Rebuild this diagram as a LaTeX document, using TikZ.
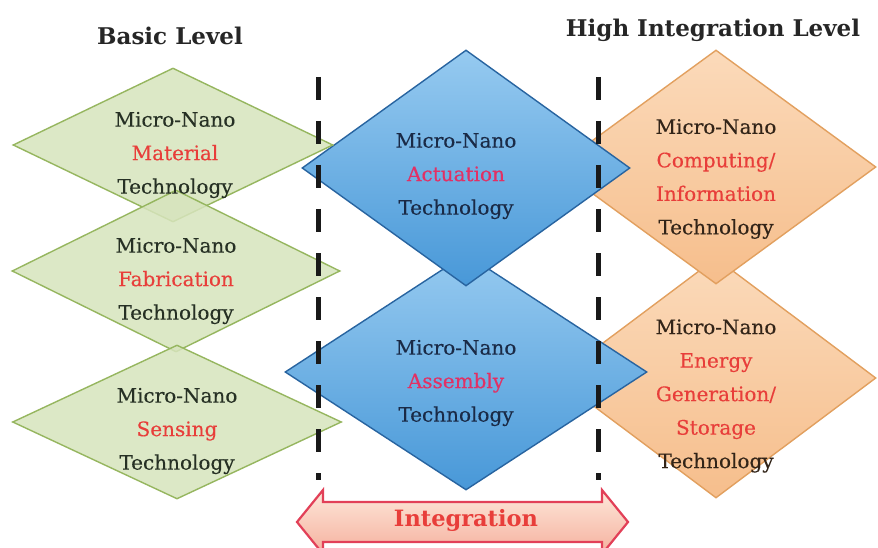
\documentclass[tikz,border=0pt]{standalone}
\usepackage{fontspec}
\setmainfont{DejaVu Serif}
\newfontfamily\lblfont{DejaVu Serif}[FakeBold=0.35]
\usetikzlibrary{shapes.geometric}
\definecolor{grnfill}{RGB}{215,228,189}
\definecolor{grnline}{RGB}{150,182,95}
\definecolor{bluetop}{RGB}{150,202,240}
\definecolor{bluebot}{RGB}{72,152,216}
\definecolor{blueline}{RGB}{40,100,160}
\definecolor{orgtop}{RGB}{251,218,186}
\definecolor{orgbot}{RGB}{246,190,140}
\definecolor{orgline}{RGB}{226,160,95}
\definecolor{redword}{RGB}{232,62,58}
\definecolor{pinkword}{RGB}{226,48,100}
\definecolor{darkgrn}{RGB}{38,48,36}
\definecolor{darkblue}{RGB}{26,42,70}
\definecolor{darkbrown}{RGB}{50,36,24}
\definecolor{arrline}{RGB}{226,64,88}
\definecolor{arrtop}{RGB}{253,232,218}
\definecolor{arrbot}{RGB}{245,176,158}
\begin{document}
\begin{tikzpicture}[x=1pt,y=-1pt,
  dia/.style={diamond, inner sep=0pt, line width=1.4pt},
  gdia/.style={dia, draw=grnline, fill=grnfill, fill opacity=0.85},
  bdia/.style={dia, draw=blueline, top color=bluetop, bottom color=bluebot},
  odia/.style={dia, draw=orgline, top color=orgtop, bottom color=orgbot},
  label/.style={align=center, font=\lblfont\fontsize{20}{33.5}\selectfont},
  header/.style={font=\fontsize{23}{27}\selectfont\bfseries, text=black!85},
  divider/.style={line width=5pt, black!90, dash pattern=on 23pt off 21pt},
]
\useasboundingbox (0,0) rectangle (878,548);
\fill[white] (0,0) rectangle (878,548);

% orange diamonds
\node[odia, minimum width=320pt, minimum height=240pt] (energy) at (716,378) {};
\node[odia, minimum width=320pt, minimum height=234pt] (comp) at (716,167) {};
% blue diamonds
\node[bdia, minimum width=362pt, minimum height=236pt] (assem) at (466,372) {};
\node[bdia, minimum width=328pt, minimum height=236pt] (actu) at (466,168) {};
% green diamonds
\node[gdia, minimum width=320pt, minimum height=154pt] (mat) at (173,145) {};
\node[gdia, minimum width=328pt, minimum height=162pt] (fab) at (176,271) {};
\node[gdia, minimum width=329pt, minimum height=154pt] (sens) at (177,422) {};

% texts
\node[label, text=darkgrn] (tmat) at (175,155) {Micro-Nano\\\textcolor{redword}{Material}\\Technology};
\node[label, text=darkgrn] (tfab) at (176,281) {Micro-Nano\\\textcolor{redword}{Fabrication}\\Technology};
\node[label, text=darkgrn] (tsens) at (177,431) {Micro-Nano\\\textcolor{redword}{Sensing}\\Technology};
\node[label, text=darkblue] (tactu) at (456,176) {Micro-Nano\\\textcolor{pinkword}{Actuation}\\Technology};
\node[label, text=darkblue] (tassem) at (456,383) {Micro-Nano\\\textcolor{pinkword}{Assembly}\\Technology};
\node[label, text=darkbrown] (tcomp) at (716,179) {Micro-Nano\\\textcolor{redword}{Computing/}\\\textcolor{redword}{Information}\\Technology};
\node[label, text=darkbrown] (tenergy) at (716,396) {Micro-Nano\\\textcolor{redword}{Energy}\\\textcolor{redword}{Generation/}\\\textcolor{redword}{Storage}\\Technology};

% dividers
\coordinate (la) at (318,77);
\coordinate (lb) at (318,480);
\coordinate (ra) at (598,77);
\coordinate (rb) at (598,480);
\draw[divider] (la) -- (lb);
\draw[divider] (ra) -- (rb);

% integration arrow
\draw[line width=2.2pt, draw=arrline, top color=arrtop, bottom color=arrbot, line join=miter]
  (297,522) -- (323,490) -- (323,502) -- (602,502) -- (602,490) -- (628,522)
  -- (602,554) -- (602,542) -- (323,542) -- (323,554) -- cycle;
\node[font=\fontsize{22.5}{26}\selectfont\bfseries, text=redword] (integ) at (466,520) {Integration};

% headers
\node[header] (basic) at (170,36) {Basic Level};
\node[header] (high) at (713,30) {High Integration Level};
\end{tikzpicture}
\end{document}
